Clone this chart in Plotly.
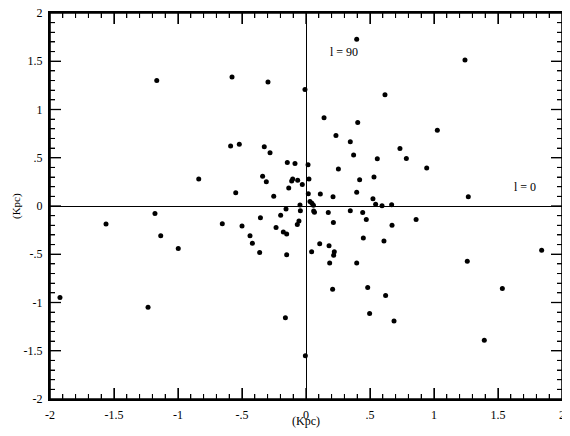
import plotly.graph_objects as go

x_kpc = [-1.166, -0.838, 0.396, -0.578, -0.297, -0.008, 0.617, 0.141, 0.404, 0.234,
         0.346, -0.589, -0.521, -0.326, -0.281, 0.372, 0.557, -0.146, -0.086, 0.016,
         0.253, -0.339, -0.310, -0.104, -0.112, -0.065, -0.029, 0.023, 0.419, 0.531,
         -0.135, -0.549, -0.252, 0.018, 0.112, 0.211, 0.396, 0.523, 0.544, 0.594,
         -0.047, 0.031, 0.046, 0.058, 1.242, 1.026, 0.734, 0.784, 0.943, 1.268,
         0.669,
         -1.180, -1.5625, -1.135, -0.998, -1.922, -1.234, -0.654, -0.500, -0.356, -0.4375,
         -0.419, -0.362, -0.234, -0.198, -0.177, -0.151, -0.151, -0.156, -0.068, -0.055,
         -0.044, 0.060, 0.066, 0.044, 0.107, 0.174, 0.180, 0.214, 0.221, 0.216,
         0.185, 0.208, 0.346, 0.443, 0.471, 0.448, 0.396, 0.609, 0.482, 0.622,
         0.497, -0.161, -0.005, 0.672, 0.860, 1.841, 1.260, 1.534, 0.6875, 1.393]
y_kpc = [1.300, 0.281, 1.728, 1.338, 1.286, 1.207, 1.152, 0.914, 0.866, 0.731,
         0.666, 0.621, 0.641, 0.614, 0.552, 0.528, 0.490, 0.452, 0.441, 0.428,
         0.383, 0.307, 0.252, 0.279, 0.259, 0.266, 0.224, 0.279, 0.272, 0.300,
         0.186, 0.138, 0.100, 0.127, 0.124, 0.096, 0.142, 0.076, 0.017, 0.003,
         0.010, 0.047, 0.028, 0.008, 1.514, 0.786, 0.597, 0.493, 0.393, 0.096,
         0.014,
         -0.078, -0.186, -0.307, -0.441, -0.948, -1.049, -0.183, -0.207, -0.121, -0.307,
         -0.386, -0.483, -0.224, -0.096, -0.269, -0.290, -0.504, -0.031, -0.193, -0.155,
         -0.050, -0.052, -0.064, -0.473, -0.390, -0.068, -0.411, -0.170, -0.473, -0.510,
         -0.590, -0.862, -0.049, -0.067, -0.140, -0.331, -0.590, -0.362, -0.845, -0.928,
         -1.114, -1.159, -1.552, -0.200, -0.140, -0.459, -0.573, -0.855, -1.193, -1.390]

tick_vals = [-2, -1.5, -1, -0.5, 0, 0.5, 1, 1.5, 2]
tick_text = ["-2", "-1.5", "-1", "-.5", "0", ".5", "1", "1.5", "2"]
axis_title = "(Kpc)"
label_l90 = "l = 90"
label_l0 = "l = 0"

font_family = "Liberation Serif, DejaVu Serif, serif"
ink = "black"

# figure geometry (page has an 8px body margin)
W, H = 562, 428
ML, MR, MT, MB = 42, 8, 5, 37
PW, PH = W - ML - MR, H - MT - MB
LO, HI = -2, 2
PX_X, PX_Y = PW / (HI - LO), PH / (HI - LO)
MAJOR_LEN, MINOR_LEN = 11, 5
FRAME_W = 1.6

fig = go.Figure()

fig.add_trace(go.Scatter(
    x=x_kpc, y=y_kpc, mode="markers",
    marker=dict(color=ink, size=5, line=dict(width=0)),
    showlegend=False, hoverinfo="skip",
))

axis_common = dict(
    range=[LO, HI],
    tickmode="array",
    tickvals=tick_vals,
    ticktext=tick_text,
    ticks="inside",
    ticklen=MAJOR_LEN,
    tickwidth=1,
    tickcolor=ink,
    minor=dict(dtick=0.1, ticks="inside", ticklen=MINOR_LEN, tickcolor=ink, tickwidth=1),
    showline=True,
    linecolor=ink,
    linewidth=2,
    mirror="ticks",
    showgrid=False,
    zeroline=True,
    zerolinecolor=ink,
    zerolinewidth=1.3,
    tickfont=dict(family=font_family, size=12, color=ink),
    ticklabeloverflow="allow",
    automargin=False,
)
fig.update_xaxes(**axis_common, ticklabelstandoff=4)
fig.update_yaxes(**axis_common, ticklabelstandoff=3)

# frame and tick marks drawn as thin filled bars
fill = dict(fillcolor=ink, line=dict(width=0), layer="above")
fx, fy = FRAME_W / 2 / PW, FRAME_W / 2 / PH
shapes = [
    dict(type="rect", xref="paper", yref="paper", x0=-fx, x1=1 + fx, y0=-fy, y1=fy, **fill),
    dict(type="rect", xref="paper", yref="paper", x0=-fx, x1=1 + fx, y0=1 - fy, y1=1 + fy, **fill),
    dict(type="rect", xref="paper", yref="paper", x0=-fx, x1=fx, y0=-fy, y1=1 + fy, **fill),
    dict(type="rect", xref="paper", yref="paper", x0=1 - fx, x1=1 + fx, y0=-fy, y1=1 + fy, **fill),
]
for i in range(-19, 20):
    t = i / 10
    major = i % 5 == 0
    ln = MAJOR_LEN if major else MINOR_LEN
    hw = (1.3 if major else 1.0) / 2
    dxd, dyd = hw / PX_X, hw / PX_Y
    ly, lx = ln / PH, ln / PW
    shapes.append(dict(type="rect", xref="x", yref="paper", x0=t - dxd, x1=t + dxd, y0=0, y1=ly, **fill))
    shapes.append(dict(type="rect", xref="x", yref="paper", x0=t - dxd, x1=t + dxd, y0=1 - ly, y1=1, **fill))
    shapes.append(dict(type="rect", xref="paper", yref="y", x0=0, x1=lx, y0=t - dyd, y1=t + dyd, **fill))
    shapes.append(dict(type="rect", xref="paper", yref="y", x0=1 - lx, x1=1, y0=t - dyd, y1=t + dyd, **fill))

fig.add_annotation(x=0.30, y=1.60, text=label_l90, showarrow=False,
                   font=dict(family=font_family, size=12, color=ink))
fig.add_annotation(x=1.71, y=0.20, text=label_l0, showarrow=False,
                   font=dict(family=font_family, size=12, color=ink))
fig.add_annotation(x=0.5, xref="paper", y=0, yref="paper", yshift=-22,
                   text=axis_title, showarrow=False, yanchor="middle",
                   font=dict(family=font_family, size=12, color=ink))
fig.add_annotation(x=0, xref="paper", y=0.5, yref="paper", xshift=-34,
                   text=axis_title, showarrow=False, textangle=-90, xanchor="center",
                   font=dict(family=font_family, size=11, color=ink))

fig.update_layout(
    width=W, height=H,
    margin=dict(l=ML, r=MR, t=MT, b=MB),
    plot_bgcolor="rgba(255,255,255,1)",
    paper_bgcolor="rgba(255,255,255,1)",
    shapes=shapes,
)

fig.write_html("out.html")
